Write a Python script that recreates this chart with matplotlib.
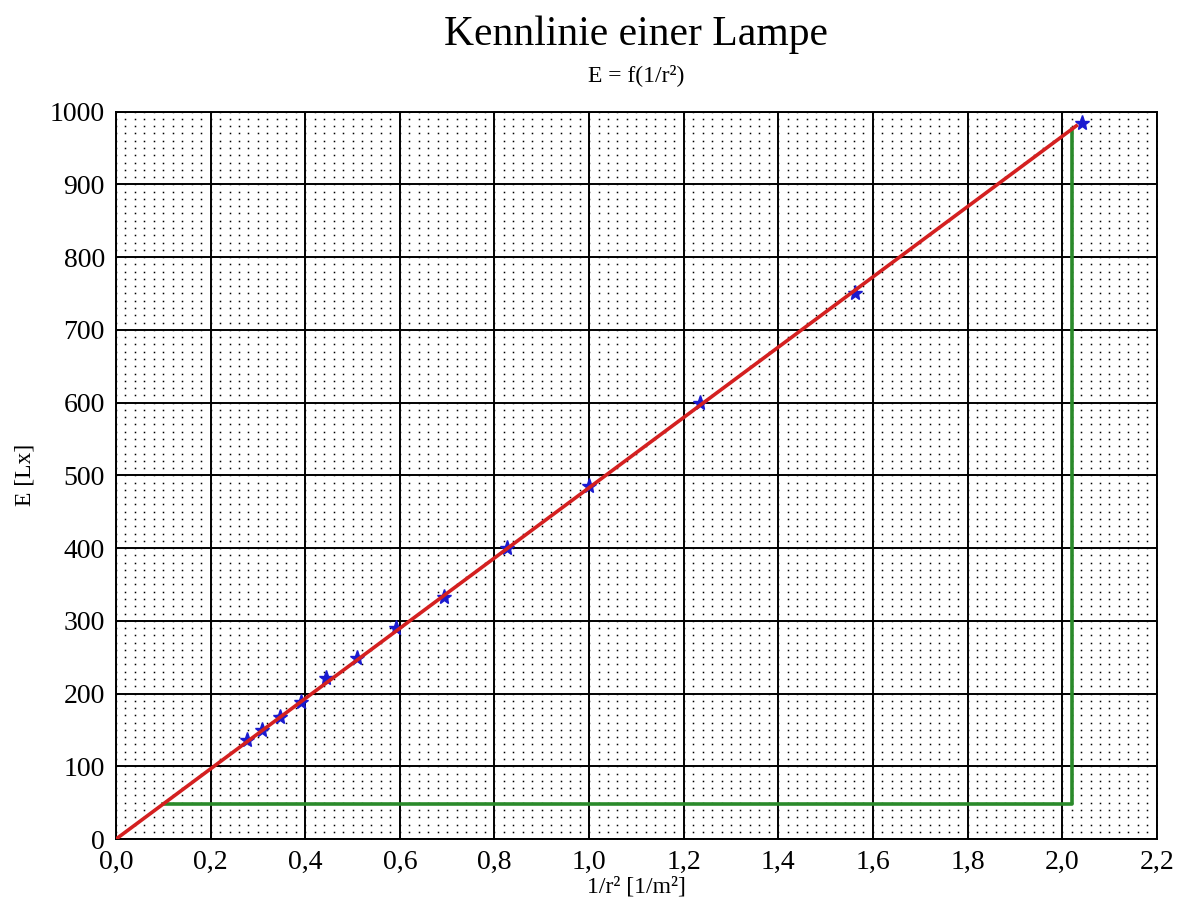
import matplotlib
matplotlib.use("Agg")
import matplotlib.pyplot as plt
import numpy as np
from matplotlib.ticker import FuncFormatter, MultipleLocator

plt.rcParams["font.family"] = ["Liberation Serif", "DejaVu Serif"]

# measured points: 1/r^2 in 1/m^2, illuminance E in Lx
inv_r2 = [0.277, 0.309, 0.346, 0.391, 0.444, 0.510, 0.592, 0.694, 0.826, 1.000, 1.235, 1.563, 2.041]
E_lx = [136, 150, 168, 188, 222, 249, 290, 333, 400, 485, 600, 750, 985]

# fitted line through origin and slope triangle
fit_x = [0.0, 2.03]
fit_slope = 483.0
tri_x = [0.1, 2.02]

fig = plt.figure(figsize=(11.84, 9.15), dpi=100)
ax = fig.add_axes([0.098, 0.083, 0.879, 0.795])

ax.set_xlim(0, 2.2)
ax.set_ylim(0, 1000)
ax.xaxis.set_major_locator(MultipleLocator(0.2))
ax.yaxis.set_major_locator(MultipleLocator(100))
ax.xaxis.set_major_formatter(FuncFormatter(lambda v, p: f"{v:.1f}".replace(".", ",")))

# dotted fine grid: a dot at each minor intersection
gx, gy = np.meshgrid(np.arange(0, 2.2001, 0.02), np.arange(0, 1000.01, 10))
ax.plot(gx.ravel(), gy.ravel(), linestyle="none", marker="s", markersize=1.1,
        markeredgewidth=0, color="black", zorder=0)
ax.grid(True, which="major", color="black", linewidth=1.4, zorder=1)
ax.set_axisbelow(True)

# slope triangle
y0 = fit_slope * tri_x[0]
y1 = fit_slope * tri_x[1]
ax.plot([tri_x[0], tri_x[1], tri_x[1]], [y0, y0, y1], color="#2a8a2a", linewidth=2.6, zorder=2)

ax.plot(inv_r2, E_lx, linestyle="none", marker="*", markersize=11, color="#1a1ad0",
        markeredgecolor="#1a1ad0", zorder=3)
ax.plot(fit_x, [fit_slope * v for v in fit_x], color="#d42020", linewidth=2.6, zorder=4)

for s in ax.spines.values():
    s.set_linewidth(1.4)
ax.tick_params(length=0, labelsize=20)
ax.tick_params(axis="x", pad=8)
ax.tick_params(axis="y", pad=8)

ax.set_xlabel("1/r² [1/m²]", fontsize=17, labelpad=1)
ax.set_ylabel("E [Lx]", fontsize=17, labelpad=10)

fig.text(0.537, 0.962, "Kennlinie einer Lampe", ha="center", va="center", fontsize=30)
fig.text(0.537, 0.918, "E = f(1/r²)", ha="center", va="center", fontsize=17)

fig.savefig("out.png", dpi=100)
